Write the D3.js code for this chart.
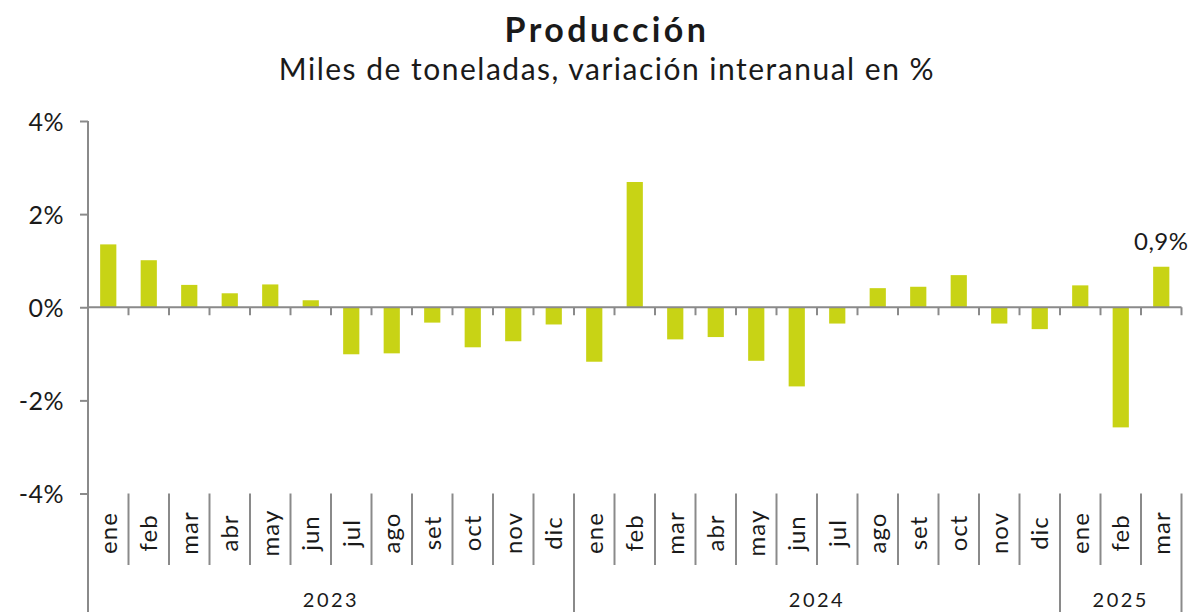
<!DOCTYPE html>
<html>
<head>
<meta charset="utf-8">
<script src="https://cdn.jsdelivr.net/npm/d3@7"></script>
<style>
html,body{margin:0;padding:0;background:#fff;}
svg{display:block;font-family:Lato,"Noto Sans",sans-serif;}
</style>
</head>
<body>
<svg id="chart" width="1188" height="612"></svg>
<script>
const months = ["ene","feb","mar","abr","may","jun","jul","ago","set","oct","nov","dic",
                "ene","feb","mar","abr","may","jun","jul","ago","set","oct","nov","dic",
                "ene","feb","mar"];
const years = ["2023","2024","2025"];
const yearSpan = [12,12,3];
const values = [1.35,1.01,0.48,0.30,0.49,0.15,-1.01,-0.99,-0.33,-0.86,-0.73,-0.37,
                -1.17,2.69,-0.69,-0.64,-1.15,-1.70,-0.35,0.41,0.44,0.69,-0.35,-0.47,
                0.47,-2.58,0.87];
const yTicks = [-4,-2,0,2,4];
const lastLabel = "0,9%";

const svg = d3.select("#chart");
const mLeft = 88, mRight = 1181.5, mTop = 121, mBottom = 493.5;
const x = d3.scaleBand().domain(d3.range(months.length)).range([mLeft,mRight]).padding(0);
const y = d3.scaleLinear().domain([-4,4]).range([mBottom,mTop]);
const bw = x.bandwidth();
const axisColor = "#8a8a8a";
const textColor = "#1a1a1a";

// title
svg.append("text").attr("x",607).attr("y",42).attr("text-anchor","middle")
  .attr("font-size",34).attr("font-weight",700).attr("letter-spacing",3.4)
  .attr("fill",textColor).text("Producción");
svg.append("text").attr("x",607).attr("y",80).attr("text-anchor","middle")
  .attr("font-size",30).attr("letter-spacing",1.5)
  .attr("fill",textColor).text("Miles de toneladas, variación interanual en %");

// bars
svg.append("g").selectAll("rect").data(values).join("rect")
  .attr("x",(d,i)=>x(i)+bw*0.3)
  .attr("width",bw*0.4)
  .attr("y",d=>y(Math.max(0,d)))
  .attr("height",d=>Math.abs(y(d)-y(0)))
  .attr("fill","#c8d315");

// y axis
const yAxis = svg.append("g").attr("transform",`translate(${mLeft},0)`)
  .call(d3.axisLeft(y).tickValues(yTicks).tickSize(8).tickPadding(16).tickFormat(d=>d+"%"));
yAxis.select(".domain").remove();
yAxis.selectAll(".tick line").attr("stroke",axisColor).attr("stroke-width",2);
yAxis.selectAll(".tick text").attr("font-size",25).attr("letter-spacing",0.5).attr("fill",textColor)
  .attr("font-family","Lato,sans-serif").attr("dy","0.36em");
svg.append("line").attr("x1",mLeft).attr("x2",mLeft).attr("y1",mTop).attr("y2",612)
  .attr("stroke",axisColor).attr("stroke-width",2);

// zero line with ticks
svg.append("line").attr("x1",mLeft).attr("x2",mRight).attr("y1",y(0)).attr("y2",y(0))
  .attr("stroke",axisColor).attr("stroke-width",2);
const bounds = d3.range(1,months.length+1).map(i=> i<months.length ? x(i) : mRight);
svg.append("g").selectAll("line").data(bounds).join("line")
  .attr("x1",d=>d).attr("x2",d=>d).attr("y1",y(0)).attr("y2",y(0)+8)
  .attr("stroke",axisColor).attr("stroke-width",2);

// month separators below
let yearStarts = [0]; yearSpan.forEach((s,i)=>yearStarts.push(yearStarts[i]+s));
const yearBound = new Set(yearStarts);
svg.append("g").selectAll("line").data(d3.range(1,months.length+1)).join("line")
  .attr("x1",i=> i<months.length ? x(i) : mRight).attr("x2",i=> i<months.length ? x(i) : mRight)
  .attr("y1",mBottom).attr("y2",i=> yearBound.has(i) ? 612 : 565)
  .attr("stroke",axisColor).attr("stroke-width",2);

// month labels
svg.append("g").selectAll("text").data(months).join("text")
  .attr("transform",(d,i)=>`translate(${x(i)+bw/2},533) rotate(-90)`)
  .attr("text-anchor","middle").attr("dy","0.35em").attr("letter-spacing",1)
  .attr("font-size",24).attr("fill",textColor).text(d=>d);

// year labels
svg.append("g").selectAll("text").data(years).join("text")
  .attr("x",(d,i)=>{const a=x(yearStarts[i]); const e=yearStarts[i+1]<months.length?x(yearStarts[i+1]):mRight; return (a+e)/2;})
  .attr("y",607).attr("text-anchor","middle").attr("letter-spacing",2.5)
  .attr("font-size",20).attr("fill",textColor).text(d=>d);

// data label
const li = values.length-1;
svg.append("text").attr("x",x(li)+bw/2).attr("y",y(values[li])-17)
  .attr("text-anchor","middle").attr("font-size",24).attr("letter-spacing",0.5)
  .attr("fill",textColor).text(lastLabel);
</script>
</body>
</html>
